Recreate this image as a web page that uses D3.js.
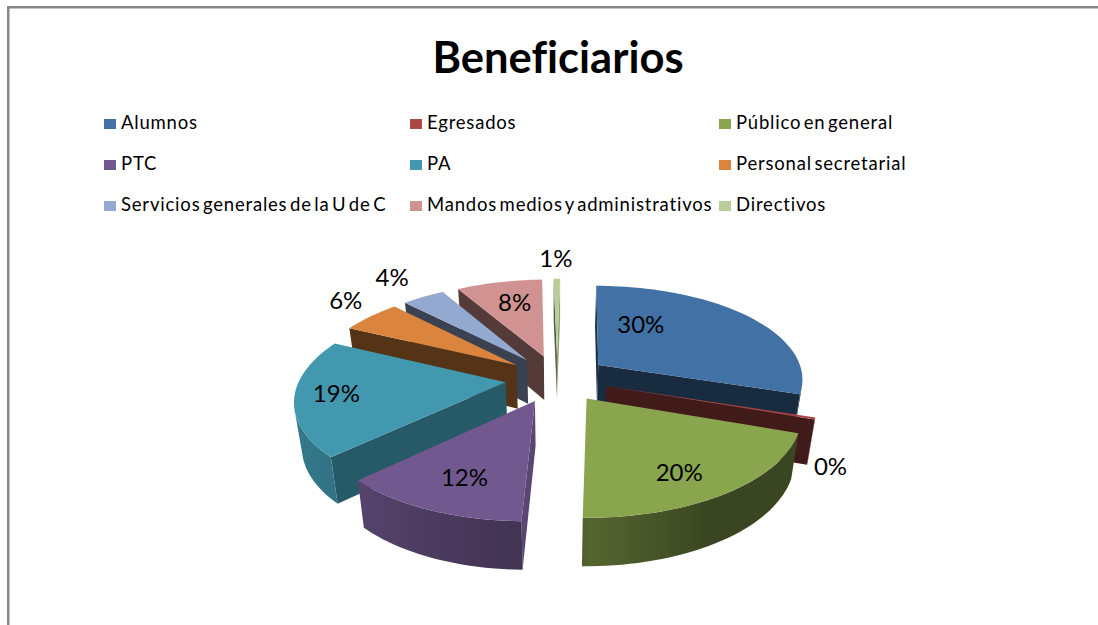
<!DOCTYPE html>
<html>
<head>
<meta charset="utf-8">
<script src="https://cdn.jsdelivr.net/npm/d3@7/dist/d3.min.js"></script>
<style>
  html, body { margin: 0; padding: 0; background: #fff; }
  svg { display: block; font-family: Lato, "Open Sans", sans-serif; font-variant-ligatures: none; }
</style>
</head>
<body>
<div id="chart"></div>
<script>
// chart data
var chartTitle = "Beneficiarios";
var categories = ["Alumnos", "Egresados", "Público en general", "PTC", "PA",
    "Personal secretarial", "Servicios generales de la U de C",
    "Mandos medios y administrativos", "Directivos"];
var values = [30, 0.3, 20, 12.4, 19.4, 5.5, 3.9, 7.9, 0.6];

var palette = ["#4271a5", "#aa4643", "#89a54e", "#71588f", "#4198af",
    "#db843d", "#93a9cf", "#d19392", "#b9cd96"];

var w = 1098,
    h = 625;

// projection of the tilted pie
var cx = 557,
    cy = 378.5,
    rx = 206,
    ry = 94.7,
    persp = 0.15,   // how much nearer points grow
    lean = -25,     // camera sits a bit left of the pie
    explode = 0.25;

// label shift from the point at 0.65 radius, same order as categories
var labelRadius = 0.65;
var labelShift = [[-57, -8], [91, 60], [6, 15], [-5, 10], [-33, 1],
    [-73, -32], [-65, -40], [1, -4], [-1, -45]];

var svg = d3.select("#chart").append("svg")
    .attr("width", w)
    .attr("height", h);

var defs = svg.append("defs");

svg.append("rect").attr("width", w).attr("height", h).attr("fill", "#fff");

// chart area border, only top and left are inside the picture
svg.append("rect").attr("x", 7).attr("y", 6).attr("width", w - 7).attr("height", 2.5).attr("fill", "#878787");
svg.append("rect").attr("x", 7).attr("y", 6).attr("width", 2.5).attr("height", h - 6).attr("fill", "#878787");

svg.append("text")
    .attr("x", 558)
    .attr("y", 73)
    .attr("text-anchor", "middle")
    .attr("font-size", 43.5)
    .attr("font-weight", 700)
    .attr("fill", "#000")
    .text(chartTitle);

// legend, three columns by three rows
var legendX = d3.scaleOrdinal().domain([0, 1, 2]).range([104, 410, 719]);
var legendY = d3.scaleOrdinal().domain([0, 1, 2]).range([123, 164, 205]);

var legend = svg.append("g").selectAll("g")
    .data(categories)
    .join("g")
    .attr("transform", function(d, i) {
        return "translate(" + legendX(i % 3) + "," + legendY(Math.floor(i / 3)) + ")";
    });

legend.append("rect")
    .attr("y", -4)
    .attr("width", 12)
    .attr("height", 10)
    .attr("fill", function(d, i) { return palette[i]; });

legend.append("text")
    .attr("x", 17)
    .attr("y", 6)
    .attr("font-size", 18.5)
    .attr("letter-spacing", 0.8)
    .attr("word-spacing", -3)
    .attr("fill", "#000")
    .text(function(d) { return d; });

// pie angles
var slices = d3.pie().sort(null).value(function(d) { return d; })(values);
slices.forEach(function(s, i) {
    s.i = i;
    s.mid = (s.startAngle + s.endAngle) / 2;
    s.ox = explode * Math.sin(s.mid);
    s.oy = -explode * Math.cos(s.mid);
});

// point on the top face of a slice: polar position around its own apex
function project(s, angle, r) {
    var u = s.ox + r * Math.sin(angle),
        v = s.oy - r * Math.cos(angle),
        k = 1 / (1 - persp * v);
    return { x: cx + rx * u * k + lean * (k - 1), y: cy + ry * v * k, k: k };
}

// same point pushed down to the bottom of the pie
function below(p) {
    return { x: cx + (p.x - cx) * 0.97, y: p.y + 24 + 20 * p.k };
}

var polygon = d3.line().x(function(p) { return p.x; }).y(function(p) { return p.y; });

function area(pts) {
    return d3.polygonArea(pts.map(function(p) { return [p.x, p.y]; }));
}

function shade(color, f) {
    var c = d3.rgb(color);
    return d3.rgb(c.r * f, c.g * f, c.b * f).formatHex();
}

// brightness of the flat walls by the direction they face, degrees clockwise from the back
var radialLight = d3.scaleLinear()
    .domain([90, 134, 198, 240, 270])
    .range([0.8, 0.6, 0.38, 0.4, 0.45])
    .clamp(true);

// brightness of the curved wall
var outerLight = d3.scaleLinear()
    .domain([108, 150, 180.7, 180.71, 224, 296])
    .range([0.42, 0.42, 0.62, 0.58, 0.76, 0.88])
    .clamp(true);

function deg(a) { return ((a * 180 / Math.PI) % 360 + 360) % 360; }

function wall(g, pts, color) {
    // polygons wound away from the viewer are hidden
    if (area(pts) >= 0) return;
    g.append("path")
        .attr("d", polygon(pts) + "Z")
        .attr("fill", color);
}

// curved wall as one shape so no seams show, light changes along it
function curvedWall(g, s, arc) {
    var seen = arc.filter(function(d, j) {
        var next = arc[Math.min(j + 1, arc.length - 1)],
            prev = arc[Math.max(j - 1, 0)];
        return area([prev.p, below(prev.p), below(next.p), next.p]) < 0;
    });
    if (seen.length < 2) return;

    var x0 = seen[0].p.x,
        x1 = seen[seen.length - 1].p.x,
        id = "wall" + s.i;

    defs.append("linearGradient")
        .attr("id", id)
        .attr("gradientUnits", "userSpaceOnUse")
        .attr("x1", x0).attr("y1", 0)
        .attr("x2", x1).attr("y2", 0)
        .selectAll("stop")
        .data(seen)
        .join("stop")
        .attr("offset", function(d) { return Math.abs((d.p.x - x0) / (x1 - x0)); })
        .attr("stop-color", function(d) { return shade(palette[s.i], outerLight(deg(d.a))); });

    var top = seen.map(function(d) { return d.p; }),
        bottom = top.map(below).reverse();

    g.append("path")
        .attr("d", polygon(top.concat(bottom)) + "Z")
        .attr("fill", "url(#" + id + ")");
}

// back slices first
var order = slices.slice().sort(function(a, b) { return d3.ascending(a.oy, b.oy); });

var pie = svg.append("g");

order.forEach(function(s) {
    var g = pie.append("g"),
        c = palette[s.i],
        apex = project(s, 0, 0),
        steps = Math.max(2, Math.ceil((s.endAngle - s.startAngle) * 30)),
        arc = d3.range(steps + 1).map(function(j) {
            var a = s.startAngle + (s.endAngle - s.startAngle) * j / steps;
            return { a: a, p: project(s, a, 1) };
        }),
        first = arc[0].p,
        last = arc[steps].p;

    wall(g, [apex, below(apex), below(first), first], shade(c, radialLight(deg(s.startAngle - Math.PI / 2))));
    wall(g, [last, below(last), below(apex), apex], shade(c, radialLight(deg(s.endAngle + Math.PI / 2))));
    curvedWall(g, s, arc);

    g.append("path")
        .attr("d", polygon([apex].concat(arc.map(function(d) { return d.p; }))) + "Z")
        .attr("fill", c);
});

// percentage labels
var percent = d3.format(".0%"),
    total = d3.sum(values);

svg.append("g").selectAll("text")
    .data(slices)
    .join("text")
    .attr("x", function(s) { return project(s, s.mid, labelRadius).x + labelShift[s.i][0]; })
    .attr("y", function(s) { return project(s, s.mid, labelRadius).y + labelShift[s.i][1]; })
    .attr("dy", "0.36em")
    .attr("text-anchor", "middle")
    .attr("font-size", 24)
    .attr("fill", "#000")
    .text(function(s) { return percent(s.value / total); });
</script>
</body>
</html>
